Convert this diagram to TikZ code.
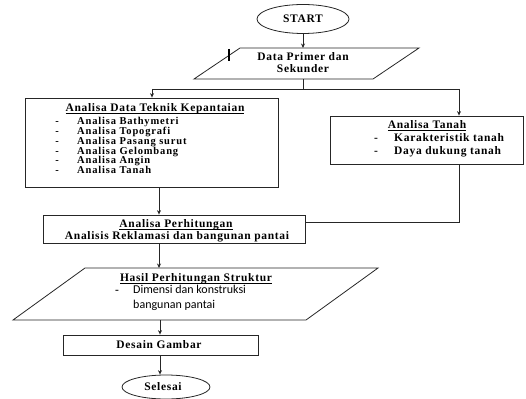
\documentclass[tikz,border=0pt]{standalone}
\usepackage{fontspec}
\setmainfont{Liberation Serif}[LetterSpace=6]
\newfontfamily\sansfnt{Carlito}
\newfontfamily\itemfnt{Liberation Serif}[LetterSpace=8]
\usetikzlibrary{arrows.meta,shapes.geometric}
\newcommand\myul[1]{\leavevmode\setbox0\hbox{#1}\rlap{\rule[-1.6pt]{\wd0}{0.6pt}}\box0}
\tikzset{
  ln/.style={line width=0.8pt, draw=black!85},
  arr/.style={ln, -{Stealth[length=4.5pt,width=4pt]}},
  boxs/.style={ln, rectangle, inner sep=0pt},
  ovals/.style={ln, ellipse, inner sep=0pt},
  txt/.style={font=\fontsize{11.5}{12}\selectfont\bfseries, inner sep=0pt, anchor=base},
  ltxt/.style={txt, anchor=base west},
  itxt/.style={font=\itemfnt\fontsize{10.5}{11}\selectfont\bfseries, inner sep=0pt, anchor=base west},
  idash/.style={itxt, anchor=base},
  stxt/.style={font=\sansfnt\fontsize{12}{13}\selectfont, inner sep=0pt, anchor=base west},
}
\begin{document}
\begin{tikzpicture}[x=1pt,y=-1pt]
\useasboundingbox (0,0) rectangle (526,398);
% start
\node[ovals, minimum width=92pt, minimum height=29pt] (start) at (303,19) {};
\node[txt] (tstart) at (303,23) {START};
% data primer parallelogram
\coordinate (d1) at (194,79); \coordinate (d2) at (373,79);
\coordinate (d3) at (419,48); \coordinate (d4) at (240,48);
\draw[ln] (d1) -- (d2) -- (d3) -- (d4) -- cycle;
\coordinate (dtop) at (303,48); \coordinate (dbot) at (303,79);
\node[txt] (tdata1) at (303,61) {Data Primer dan};
\node[txt] (tdata2) at (303,72.5) {Sekunder};
\coordinate (tk1) at (229,49); \coordinate (tk2) at (229,61);
\draw[line width=1.2pt] (tk1) -- (tk2);
% split
\coordinate (sp) at (303,89); \coordinate (spl) at (152,89); \coordinate (spr) at (459,89);
\draw[arr] (start.south) -- (dtop);
\draw[ln] (dbot) -- (sp);
\draw[ln] (spl) -- (spr);
% left box
\node[boxs, minimum width=253pt, minimum height=89pt] (adt) at (151.5,142.5) {};
\draw[arr] (spl) -- (adt.north -| spl);
\node[txt] (tadt) at (155,112) {\myul{Analisa Data Teknik Kepantaian}};
\foreach \i/\s in {0/Analisa Bathymetri,1/Analisa Topografi,2/Analisa Pasang surut,3/Analisa Gelombang,4/Analisa Angin,5/Analisa Tanah}{
  \node[idash] (dash\i) at (57,124.3+9.9*\i) {-};
  \node[itxt] (item\i) at (77,124.3+9.9*\i) {\s};
}
% right box
\node[boxs, minimum width=193pt, minimum height=48pt] (at) at (426.5,140) {};
\draw[arr] (spr) -- (at.north -| spr);
\node[txt] (tat) at (427,128.7) {\myul{Analisa Tanah}};
\node[txt] (dr1) at (376,141.5) {-};
\node[ltxt] (r1) at (394,141.5) {Karakteristik tanah};
\node[txt] (dr2) at (376,154) {-};
\node[ltxt] (r2) at (394,154) {Daya dukung tanah};
% perhitungan box
\node[boxs, minimum width=262pt, minimum height=28pt] (ap) at (174,229) {};
\draw[arr] (adt.south -| 159,0) -- (ap.north -| 159,0);
\node[txt] (tap1) at (176,227.5) {\myul{Analisa Perhitungan}};
\node[txt] (tap2) at (177,239) {Analisis Reklamasi dan bangunan pantai};
\coordinate (rc) at (459,222);
\draw[ln] (at.south -| rc) -- (rc) -- (ap.east |- rc);
% hasil parallelogram
\coordinate (h1) at (13,320); \coordinate (h2) at (306,320);
\coordinate (h3) at (378,268); \coordinate (h4) at (85,268);
\draw[ln] (h1) -- (h2) -- (h3) -- (h4) -- cycle;
\coordinate (htop) at (159,268); \coordinate (hbot) at (160,320);
\draw[arr] (ap.south -| htop) -- (htop);
\node[txt] (thas) at (196,281.7) {\myul{Hasil Perhitungan Struktur}};
\node[txt] (dh) at (117,293) {-};
\node[stxt] (h1t) at (133,293) {Dimensi dan konstruksi};
\node[stxt] (h2t) at (133,308) {bangunan pantai};
% desain box
\node[boxs, minimum width=195pt, minimum height=20pt] (dg) at (160.5,345) {};
\draw[arr] (hbot) -- (dg.north -| hbot);
\node[txt] (tdg) at (159,348.5) {Desain Gambar};
% selesai
\node[ovals, minimum width=88pt, minimum height=24pt] (sel) at (166,387) {};
\draw[arr] (dg.south -| hbot) -- (sel.north -| hbot);
\node[txt] (tsel) at (163,390.5) {Selesai};
\end{tikzpicture}
\end{document}
